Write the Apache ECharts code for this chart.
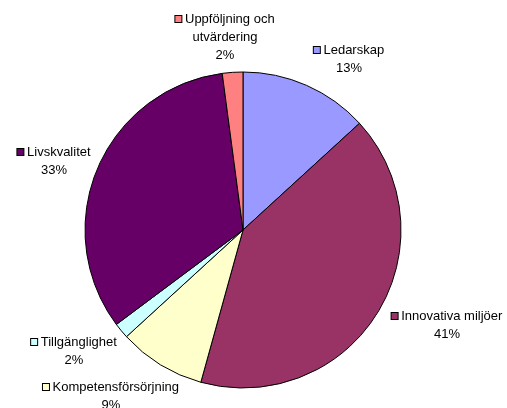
<!DOCTYPE html>
<html>
<head>
<meta charset="utf-8">
<script src="https://cdn.jsdelivr.net/npm/echarts@6/dist/echarts.min.js"></script>
<style>
  html, body { margin: 0; padding: 0; background: #fff; }
  #chart { width: 507px; height: 408px; }
</style>
</head>
<body>
<div id="chart"></div>
<script>
// andelar (procent), medurs från kl. 12
const names = [
  "Ledarskap",
  "Innovativa miljöer",
  "Kompetensförsörjning",
  "Tillgänglighet",
  "Livskvalitet",
  "Uppföljning och\nutvärdering"
];
const values = [13.2, 41.1, 8.9, 1.6, 33.1, 2.1];
const colors = ["#9999FF", "#993366", "#FFFFCC", "#CCFFFF", "#660066", "#FF8080"];

// var etiketterna står (mitt på textblocket)
const labelPos = [
  [349, 59],
  [447, 325],
  [111, 396],
  [74, 351],
  [54, 161],
  [225, 37]
];

const charts = echarts.init(document.getElementById("chart"));

const seriesData = names.map((n, i) => ({
  name: n,
  value: values[i],
  itemStyle: { color: colors[i] },
  label: {
    formatter: (p) => {
      const lines = n.split("\n");
      let s = "{k" + i + "|}{t| " + lines[0] + "}";
      for (let j = 1; j < lines.length; j++) s += "\n{t|" + lines[j] + "}";
      return s + "\n{t|" + Math.round(p.value) + "%}";
    },
    rich: {
      ["k" + i]: {
        width: 6,
        height: 6,
        backgroundColor: colors[i],
        borderColor: "#000",
        borderWidth: 1
      },
      t: {
        fontFamily: "Liberation Sans, Arial, sans-serif",
        fontSize: 13,
        color: "#000",
        lineHeight: 18
      }
    }
  }
}));

charts.setOption({
  animation: false,
  backgroundColor: "#fff",
  series: [
    {
      type: "pie",
      center: [243, 230],
      radius: [0, 158],
      startAngle: 90,
      clockwise: true,
      avoidLabelOverlap: false,
      data: seriesData,
      itemStyle: { borderColor: "#000", borderWidth: 1 },
      label: { show: true, position: "outside", align: "center" },
      labelLine: { show: false },
      emphasis: { disabled: true },
      labelLayout: (params) => ({
        x: labelPos[params.dataIndex][0],
        y: labelPos[params.dataIndex][1],
        align: "center",
        verticalAlign: "middle"
      })
    }
  ]
});
</script>
</body>
</html>
